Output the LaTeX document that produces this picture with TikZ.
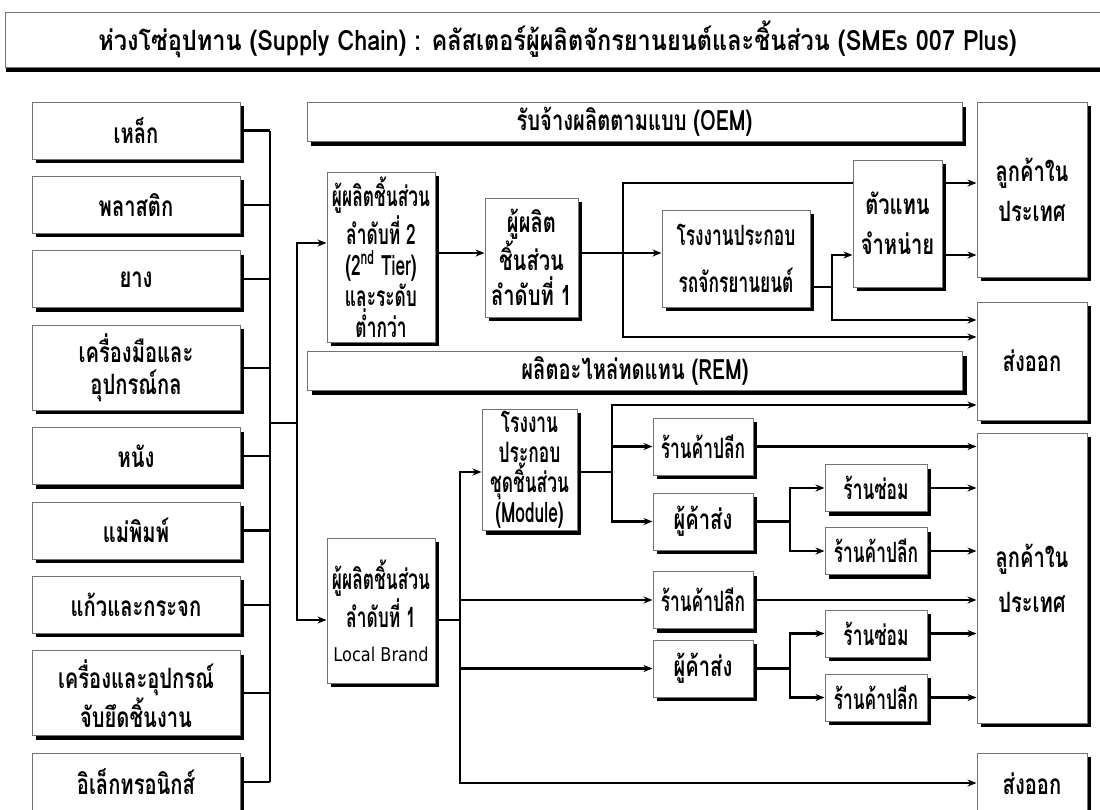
\documentclass[tikz,border=0pt]{standalone}
\usepackage{fontspec}
\newfontfamily\thai[Script=Thai,FakeStretch=0.72]{Loma}
\newfontfamily\thain[Script=Thai,FakeStretch=0.62]{Loma}
\newfontfamily\thait[Script=Thai,FakeStretch=0.84]{Loma}
\newfontfamily\latn[FakeStretch=0.85]{DejaVu Sans}
\newcommand\tfs[1]{\fontsize{14}{#1}\selectfont\bfseries}
\usetikzlibrary{positioning,shadows,arrows.meta}

\begin{document}
\begin{tikzpicture}[x=0.5pt, y=-0.5pt, node distance=8.2pt,
  >={Stealth[length=4.5pt,width=3.5pt]},
  blk/.style={draw=black!55, line width=0.5pt, fill=white, align=center, inner sep=1pt,
    font=\thai\tfs{16pt},
    drop shadow={shadow xshift=2pt, shadow yshift=-2pt, fill=black, opacity=1}},
  nar/.style={blk, font=\thain\tfs{15.5pt}},
  mat/.style={blk, minimum width=104pt, minimum height=28.5pt},
  mat2/.style={mat, minimum height=42.5pt},
  bar/.style={blk, minimum width=327.5pt, minimum height=19.5pt},
  shop/.style={nar, minimum width=50pt, minimum height=28.5pt},
  fix/.style={nar, minimum width=51pt, minimum height=23.5pt},
  cust/.style={blk, minimum width=55pt, font=\thai\tfs{20pt}},
  ln/.style={line width=1.1pt}]
\useasboundingbox (0,0) rectangle (1100,810);

\node[blk, minimum width=552.5pt, minimum height=27.5pt, font=\thait\tfs{16pt},
  drop shadow={shadow xshift=0.5pt, shadow yshift=-2.5pt, fill=black, opacity=1}]
  (ttl) at (557.5,39.5) {ห่วงโซ่อุปทาน (Supply Chain) : คลัสเตอร์ผู้ผลิตจักรยานยนต์และชิ้นส่วน (SMEs 007 Plus)};
%
\node[mat]              (m1) at (136,130.5) {เหล็ก};
\node[mat,below=of m1]  (m2) {พลาสติก};
\node[mat,below=of m2]  (m3) {ยาง};
\node[mat2,below=of m3] (m4) {เครื่องมือและ\\อุปกรณ์กล};
\node[mat,below=of m4]  (m5) {หนัง};
\node[mat,below=of m5]  (m6) {แม่พิมพ์};
\node[mat,below=of m6]  (m7) {แก้วและกระจก};
\node[mat2,below=of m7] (m8) {เครื่องและอุปกรณ์\\จับยึดชิ้นงาน};
\node[mat,below=of m8]  (m9) {อิเล็กทรอนิกส์};
%
\node[bar] (oem) at (634.5,122) {รับจ้างผลิตตามแบบ (OEM)};
\node[bar] (rem) at (635,371)   {ผลิตอะไหล่ทดแทน (REM)};
%
\node[nar, minimum width=54pt, minimum height=85pt] (t2) at (381,257)
  {ผู้ผลิตชิ้นส่วน\\ลำดับที่ 2\\(2\textsuperscript{nd} Tier)\\และระดับ\\ต่ำกว่า};
\node[blk, minimum width=46.5pt, minimum height=59.5pt, font=\thai\tfs{17.5pt}] (t1) at (531.5,257.5)
  {ผู้ผลิต\\ชิ้นส่วน\\ลำดับที่ 1};
\node[nar, minimum width=74pt, minimum height=48.5pt, font=\thain\tfs{23.5pt}] (asm) at (736,258.5)
  {โรงงานประกอบ\\รถจักรยานยนต์};
\node[blk, minimum width=44.5pt, minimum height=63.5pt, font=\thai\tfs{20pt}] (dist) at (897.5,223.5)
  {ตัวแทน\\จำหน่าย};
\node[cust, minimum height=87.5pt] (cust1) at (1032,189.5) {ลูกค้าใน\\ประเทศ};
\node[cust, minimum height=59pt]   (exp1)  at (1032,361)   {ส่งออก};
%
\node[nar, minimum width=47.5pt, minimum height=60pt, font=\thain\tfs{15pt}] (mod) at (529.5,470)
  {โรงงาน\\ประกอบ\\ชุดชิ้นส่วน\\(Module)};
\node[nar, minimum width=54pt, minimum height=72.5pt, font=\thain\tfs{19pt}] (lb) at (381,610.5)
  {ผู้ผลิตชิ้นส่วน\\ลำดับที่ 1\\[-2pt]{\latn\mdseries\fontsize{9.5}{12}\selectfont Local Brand}};
\node[shop] (r1)   at (703,446.5) {ร้านค้าปลีก};
\node[mat, minimum width=50pt] (w1) at (703,521.5) {ผู้ค้าส่ง};
\node[fix]  (rep1) at (876,488)   {ร้านซ่อม};
\node[fix]  (r2)   at (876,551)   {ร้านค้าปลีก};
\node[shop] (r3)   at (703,600)   {ร้านค้าปลีก};
\node[mat, minimum width=50pt] (w2) at (703,668.5) {ผู้ค้าส่ง};
\node[fix]  (rep2) at (876,633.5) {ร้านซ่อม};
\node[fix]  (r4)   at (876,697.5) {ร้านค้าปลีก};
\node[cust, minimum height=145pt, font=\thai\tfs{22.5pt}] (cust2) at (1032,578) {ลูกค้าใน\\ประเทศ};
\node[cust, minimum height=31pt]  (exp2)  at (1032,784) {ส่งออก};
%
\coordinate (bus) at (270,0);
\coordinate (sp)  at (297,423);
\coordinate (j1)  at (623,253);
\coordinate (j2)  at (832,287);
\coordinate (j3)  at (460,620);
\coordinate (j4)  at (612,472);
\coordinate (j5)  at (790,521.5);
\coordinate (j6)  at (790,668.5);
%
\foreach \i in {1,...,9}
  \draw[ln] (m\i.east) -- (m\i.east -| bus);
\draw[ln] (m1.east -| bus) -- (m9.east -| bus);
\draw[ln] (bus |- sp) -- (sp);
\draw[ln,->] (sp) |- (t2.west |- 0,243);
\draw[ln,->] (sp) |- (lb.west |- 0,620);
%
\draw[ln,->] (t2.east |- 0,253) -- (t1.west |- 0,253);
\draw[ln] (t1.east |- j1) -- (j1);
\draw[ln,->] (j1) -- (asm.west |- j1);
\draw[ln] (j1) |- (dist.west |- 0,183);
\draw[ln,->] (dist.east |- 0,183) -- (cust1.west |- 0,183);
\draw[ln,->] (j1) |- (exp1.west |- 0,337);
\draw[ln] (asm.east |- j2) -- (j2);
\draw[ln,->] (j2) |- (dist.west |- 0,255);
\draw[ln,->] (j2) |- (exp1.west |- 0,320);
\draw[ln,->] (dist.east |- 0,255) -- (cust1.west |- 0,255);
%
\draw[ln] (lb.east |- j3) -- (j3);
\draw[ln,->] (j3) |- (mod.west |- 0,472);
\draw[ln,->] (j3) |- (r3.west);
\draw[ln,->] (j3) |- (w2.west);
\draw[ln,->] (j3) |- (exp2.west |- 0,783);
\draw[ln] (mod.east |- j4) -- (j4);
\draw[ln,->] (j4) |- (exp1.west |- 0,405);
\draw[ln,->] (j4) |- (r1.west);
\draw[ln,->] (j4) |- (w1.west);
\draw[ln] (w1.east) -- (j5);
\draw[ln,->] (j5) |- (rep1.west);
\draw[ln,->] (j5) |- (r2.west);
\draw[ln] (w2.east) -- (j6);
\draw[ln,->] (j6) |- (rep2.west);
\draw[ln,->] (j6) |- (r4.west);
\foreach \n in {r1,rep1,r2,r3,rep2,r4}
  \draw[ln,->] (\n.east) -- (\n.east -| cust2.west);
\end{tikzpicture}
\end{document}
